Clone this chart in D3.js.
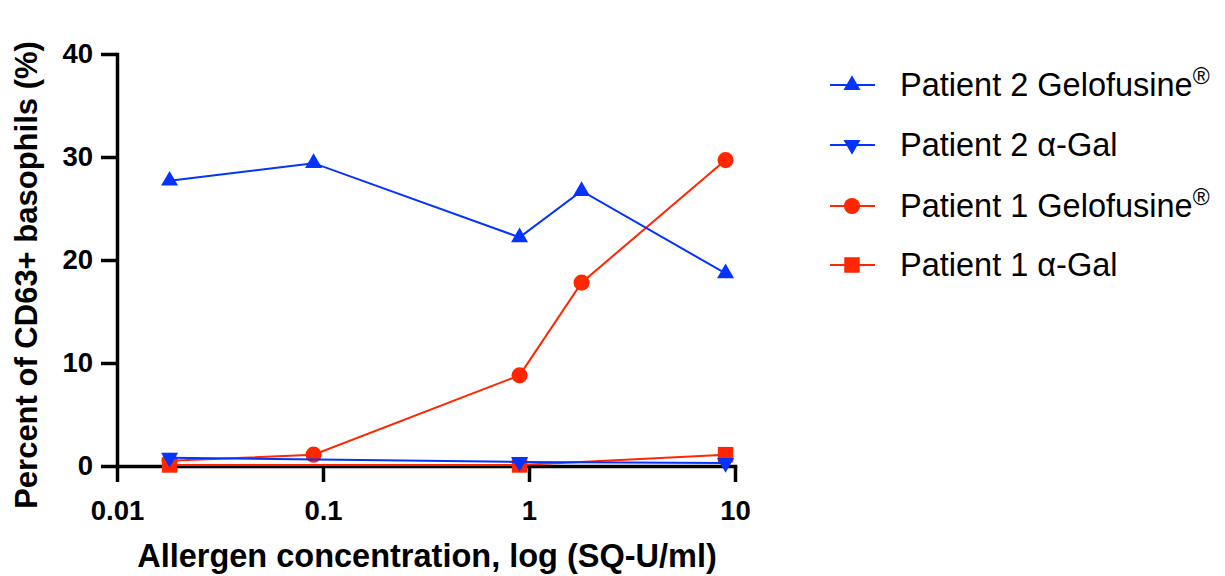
<!DOCTYPE html>
<html>
<head>
<meta charset="utf-8">
<script src="https://cdn.jsdelivr.net/npm/d3@7"></script>
<style>
  html, body { margin: 0; padding: 0; background: #fff; }
  svg { display: block; font-family: Arial, 'Liberation Sans', sans-serif; }
</style>
</head>
<body>
<svg id="chart" width="1225" height="576"></svg>
<script>
// Doses (SQ-U/ml) and values (% CD63+ basophils)
const dosesFull = [0.018, 0.09, 0.9, 1.8, 9];
const dosesShort = [0.018, 0.9, 9];

const p2Gelofusine = [27.7, 29.4, 22.2, 26.7, 18.7];
const p2AlphaGal = [0.8, 0.4, 0.3];
const p1Gelofusine = [0.5, 1.1, 8.8, 17.8, 29.7];
const p1AlphaGal = [0.1, 0.1, 1.1];

const xTickValues = [0.01, 0.1, 1, 10];
const xTickLabels = ['0.01', '0.1', '1', '10'];
const yTickValues = [0, 10, 20, 30, 40];

const BLUE = '#0433ff';
const RED = '#ff2600';

const series = [
  { name: 'Patient 2 Gelofusine', reg: true, x: dosesFull, y: p2Gelofusine, color: BLUE, shape: 'up' },
  { name: 'Patient 2 \u03b1-Gal', reg: false, x: dosesShort, y: p2AlphaGal, color: BLUE, shape: 'down' },
  { name: 'Patient 1 Gelofusine', reg: true, x: dosesFull, y: p1Gelofusine, color: RED, shape: 'circle' },
  { name: 'Patient 1 \u03b1-Gal', reg: false, x: dosesShort, y: p1AlphaGal, color: RED, shape: 'square' }
];

const svg = d3.select('#chart');

const x = d3.scaleLog().domain([0.01, 10]).range([117, 735]);
const y = d3.scaleLinear().domain([0, 40]).range([466, 54]);

// marker path by shape
function markerPath(shape) {
  if (shape === 'up' || shape === 'down') return d3.symbol(d3.symbolTriangle, 125)();
  if (shape === 'circle') return d3.symbol(d3.symbolCircle, 205)();
  return d3.symbol(d3.symbolSquare, 240)();
}

// Axes
const xAxis = d3.axisBottom(x)
  .tickValues(xTickValues)
  .tickFormat((d, i) => xTickLabels[i])
  .tickSize(16)
  .tickSizeOuter(0)
  .tickPadding(18);

const yAxis = d3.axisLeft(y)
  .tickValues(yTickValues)
  .tickSize(16)
  .tickSizeOuter(0)
  .tickPadding(8);

const gx = svg.append('g').attr('transform', `translate(0,${y(0)})`).call(xAxis);
const gy = svg.append('g').attr('transform', `translate(${x(0.01)},0)`).call(yAxis);

[gx, gy].forEach(g => {
  g.select('.domain').attr('stroke', '#000').attr('stroke-width', 3.5).attr('stroke-linecap', 'square');
  g.selectAll('.tick line').attr('stroke', '#000').attr('stroke-width', 3.5);
  g.selectAll('.tick text')
    .attr('fill', '#000')
    .style('font-family', "Arial, 'Liberation Sans', sans-serif")
    .style('font-size', '27.5px')
    .style('font-weight', 'bold');
});

// Axis titles
svg.append('text')
  .attr('x', 427)
  .attr('y', 567)
  .attr('text-anchor', 'middle')
  .style('font-size', '32.5px')
  .style('font-weight', 'bold')
  .text('Allergen concentration, log (SQ-U/ml)');

svg.append('text')
  .attr('transform', 'translate(37,275) rotate(-90)')
  .attr('text-anchor', 'middle')
  .style('font-size', '31px')
  .style('font-weight', 'bold')
  .text('Percent of CD63+ basophils (%)');

// Series: draw red first so blue sits on top
const line = d3.line().x(d => x(d[0])).y(d => y(d[1]));

series.slice().reverse().forEach(s => {
  const pts = s.x.map((v, i) => [v, s.y[i]]);
  const g = svg.append('g');
  g.append('path')
    .datum(pts)
    .attr('d', line)
    .attr('fill', 'none')
    .attr('stroke', s.color)
    .attr('stroke-width', 2);
  g.selectAll('path.m')
    .data(pts)
    .enter()
    .append('path')
    .attr('class', 'm')
    .attr('d', markerPath(s.shape))
    .attr('transform', d => `translate(${x(d[0])},${y(d[1])})` + (s.shape === 'down' ? ' rotate(180)' : ''))
    .attr('fill', s.color);
});

// Legend
const legendY = [85, 145, 206, 265];
series.forEach((s, i) => {
  const g = svg.append('g').attr('transform', `translate(0,${legendY[i]})`);
  g.append('line')
    .attr('x1', 830).attr('x2', 875)
    .attr('y1', 0).attr('y2', 0)
    .attr('stroke', s.color)
    .attr('stroke-width', 2);
  g.append('path')
    .attr('d', markerPath(s.shape))
    .attr('transform', 'translate(852,0)' + (s.shape === 'down' ? ' rotate(180)' : ''))
    .attr('fill', s.color);
  const t = g.append('text')
    .attr('x', 900)
    .attr('y', 11)
    .style('font-size', '32.5px')
    .attr('fill', '#000')
    .text(s.name);
  if (s.reg) {
    t.append('tspan')
      .attr('dy', -12)
      .style('font-size', '23px')
      .text('\u00ae');
  }
});
</script>
</body>
</html>
